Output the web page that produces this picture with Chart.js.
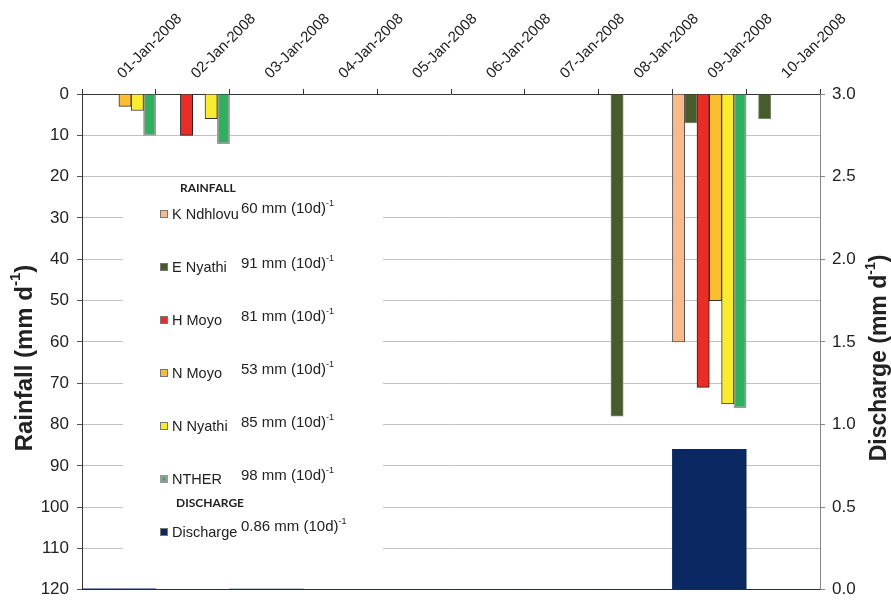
<!DOCTYPE html>
<html>
<head>
<meta charset="utf-8">
<script src="https://cdn.jsdelivr.net/npm/chart.js@4/dist/chart.umd.min.js"></script>
<style>
  html, body { margin: 0; padding: 0; background: #fff; }
  #wrap { width: 891px; height: 608px; }
</style>
</head>
<body>
<div id="wrap"><canvas id="c" width="891" height="608"></canvas></div>
<script>
// Daily rainfall per gauge (mm/d) and catchment discharge (mm/d), 1-10 Jan 2008
const categories = ['01-Jan-2008', '02-Jan-2008', '03-Jan-2008', '04-Jan-2008', '05-Jan-2008',
                    '06-Jan-2008', '07-Jan-2008', '08-Jan-2008', '09-Jan-2008', '10-Jan-2008'];
const gaugeNames = ['K Ndhlovu', 'E Nyathi', 'H Moyo', 'N Moyo', 'N Nyathi', 'NTHER'];
const kNdhlovu  = [0, 0, 0, 0, 0, 0, 0, 0, 60, 0];
const eNyathi   = [0, 0, 0, 0, 0, 0, 0, 78, 7, 6];
const hMoyo     = [0, 10, 0, 0, 0, 0, 0, 0, 71, 0];
const nMoyo     = [3, 0, 0, 0, 0, 0, 0, 0, 50, 0];
const nNyathi   = [4, 6, 0, 0, 0, 0, 0, 0, 75, 0];
const nther     = [10, 12, 0, 0, 0, 0, 0, 0, 76, 0];
const discharge = [0.006, 0, 0.004, 0, 0, 0, 0, 0, 0.85, 0];

const FONT = '"Liberation Sans", Arial, sans-serif';
const HEAD_FONT = 'Lato, "Open Sans", sans-serif';

const gaugeSeries = [kNdhlovu, eNyathi, hMoyo, nMoyo, nNyathi, nther];
const gaugeStyles = [
  { fill: '#F9BA8A', border: '#555555', width: 1 },
  { fill: '#485C2B', border: '#7d8873', width: 1 },
  { fill: '#EC2B25', border: '#222222', width: 1 },
  { fill: '#FDBE2D', border: '#333333', width: 1 },
  { fill: '#F8EC2D', border: '#333333', width: 1 },
  { fill: '#2AB25D', border: '#9a9a9a', width: 2 }
];
const dischargeStyle = { fill: '#0C2862' };

const datasets = gaugeSeries.map((d, i) => ({
  label: gaugeNames[i],
  data: d,
  yAxisID: 'y',
  backgroundColor: gaugeStyles[i].fill,
  borderColor: gaugeStyles[i].border,
  borderWidth: gaugeStyles[i].width,
  categoryPercentage: 1,
  barPercentage: 1
}));
datasets.push({
  label: 'Discharge',
  data: discharge,
  yAxisID: 'y2',
  grouped: false,
  backgroundColor: dischargeStyle.fill,
  borderWidth: 0,
  categoryPercentage: 1,
  barPercentage: 1
});

const sum = a => a.reduce((s, v) => s + v, 0);

// text with a raised "-1" exponent; returns total width
function supText(ctx, x, y, main, sup, tail, size, weight, draw) {
  ctx.font = `${weight} ${size}px ${FONT}`;
  const w1 = ctx.measureText(main).width;
  const w3 = ctx.measureText(tail).width;
  const ss = Math.round(size * 0.62);
  ctx.font = `${weight} ${ss}px ${FONT}`;
  const w2 = ctx.measureText(sup).width;
  if (draw) {
    ctx.textBaseline = 'middle';
    ctx.textAlign = 'left';
    ctx.font = `${weight} ${size}px ${FONT}`;
    ctx.fillText(main, x, y);
    ctx.font = `${weight} ${ss}px ${FONT}`;
    ctx.fillText(sup, x + w1, y - size * 0.38);
    ctx.font = `${weight} ${size}px ${FONT}`;
    if (tail) ctx.fillText(tail, x + w1 + w2, y);
  }
  return w1 + w2 + w3;
}

const overlay = {
  id: 'overlay',
  afterDraw(chart) {
    const ctx = chart.ctx;
    const xs = chart.scales.x;
    ctx.save();
    ctx.fillStyle = '#222';

    // slanted date labels above the top axis
    ctx.font = `15px ${FONT}`;
    ctx.textAlign = 'left';
    ctx.textBaseline = 'alphabetic';
    categories.forEach((lab, i) => {
      const cx = xs.getPixelForValue(i);
      ctx.save();
      ctx.translate(cx + 4, 79);
      ctx.rotate(-Math.PI / 4);
      ctx.fillText(lab, 0, 0);
      ctx.restore();
    });

    // axis titles
    const titles = [
      { cx: 25, cy: 358, main: 'Rainfall (mm d', size: 24 },
      { cx: 880, cy: 358, main: 'Discharge (mm d', size: 23 }
    ];
    titles.forEach(t => {
      const w = supText(ctx, 0, 0, t.main, '-1', ')', t.size, 'bold', false);
      ctx.save();
      ctx.translate(t.cx, t.cy);
      ctx.rotate(-Math.PI / 2);
      supText(ctx, -w / 2, 0, t.main, '-1', ')', t.size, 'bold', true);
      ctx.restore();
    });

    // legend panel
    ctx.fillStyle = '#fff';
    ctx.fillRect(123, 181, 260, 376);

    ctx.fillStyle = '#222';
    ctx.textBaseline = 'middle';
    ctx.textAlign = 'left';
    ctx.font = `bold 12px ${HEAD_FONT}`;
    ctx.fillText('RAINFALL', 180, 188);
    ctx.fillText('DISCHARGE', 176, 503);

    const rows = gaugeNames.map((n, i) => ({
      name: n, total: String(sum(gaugeSeries[i])), style: gaugeStyles[i], y: 214 + i * 53, lift: i === 0 ? 5 : 3
    }));
    rows.push({ name: 'Discharge', total: sum(discharge).toFixed(2), style: { fill: dischargeStyle.fill }, y: 532, lift: 5 });

    rows.forEach((r, i) => {
      if (i === 5) {
        ctx.fillStyle = '#9a9a9a';
        ctx.fillRect(160, r.y - 4, 8, 8);
        ctx.fillStyle = r.style.fill;
        ctx.fillRect(162.5, r.y - 1.5, 3, 3);
      } else {
        ctx.fillStyle = '#777';
        ctx.fillRect(160, r.y - 4, 8, 8);
        ctx.fillStyle = r.style.fill;
        ctx.fillRect(161, r.y - 3, 6, 6);
      }
      ctx.fillStyle = '#222';
      ctx.font = `14.5px ${FONT}`;
      ctx.textBaseline = 'middle';
      ctx.fillText(r.name, 172, r.y + 1);
      supText(ctx, 241, r.y - r.lift, r.total + ' mm (10d)', '-1', '', 15, 'normal', true);
    });
    ctx.restore();
  }
};

new Chart(document.getElementById('c'), {
  type: 'bar',
  data: { labels: categories, datasets },
  options: {
    responsive: false,
    animation: false,
    events: [],
    layout: { padding: { top: 0, left: 0, right: 0, bottom: 7 } },
    plugins: { legend: { display: false }, tooltip: { enabled: false } },
    scales: {
      x: {
        position: 'top',
        offset: true,
        grid: { offset: true, drawOnChartArea: false, tickLength: 5, tickColor: '#333' },
        border: { color: '#333', width: 1 },
        ticks: { display: false },
        afterFit: s => { s.height = 94; }
      },
      y: {
        position: 'left',
        reverse: true,
        min: 0, max: 120,
        ticks: { stepSize: 10, padding: 8, color: '#222', font: { family: FONT, size: 17 } },
        grid: {
          color: c => (c.tick && c.tick.value === 120) ? '#333' : '#c2c2c2',
          tickColor: '#555', tickLength: 5, lineWidth: 1
        },
        border: { color: '#333', width: 1 },
        afterFit: s => { s.width = 82; }
      },
      y2: {
        position: 'right',
        min: 0, max: 3,
        ticks: { stepSize: 0.5, padding: 7, color: '#222', font: { family: FONT, size: 17 },
                 callback: v => Number(v).toFixed(1) },
        grid: { drawOnChartArea: false, tickLength: 5, tickColor: '#888' },
        border: { color: '#888', width: 1 },
        afterFit: s => { s.width = 71; }
      }
    }
  },
  plugins: [overlay]
});
</script>
</body>
</html>
